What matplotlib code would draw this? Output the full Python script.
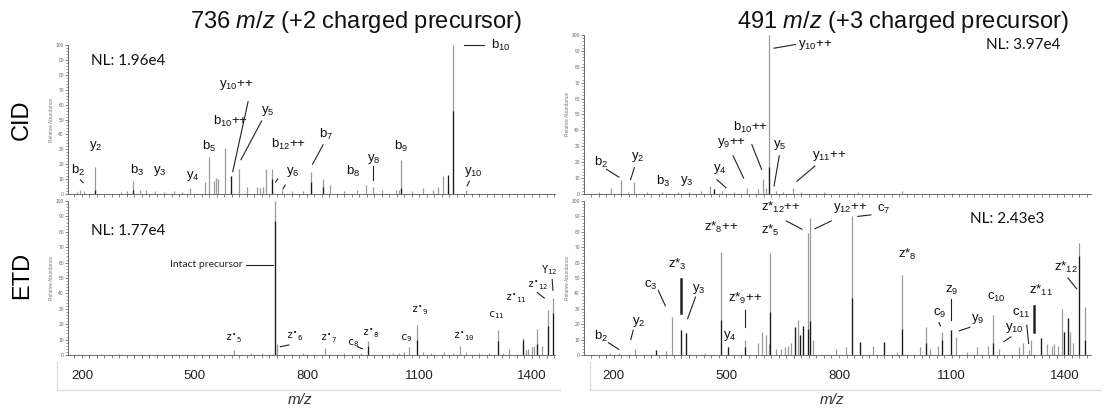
import matplotlib
matplotlib.use("Agg")
import matplotlib.pyplot as plt
from matplotlib.ticker import MultipleLocator, FixedLocator, NullFormatter
from matplotlib.lines import Line2D

plt.rcParams["font.family"] = ["Liberation Sans", "DejaVu Sans"]
plt.rcParams["mathtext.fontset"] = "custom"
plt.rcParams["mathtext.rm"] = "Liberation Sans"
plt.rcParams["mathtext.it"] = "Liberation Sans:italic"
plt.rcParams["mathtext.default"] = "regular"

# ---- CID, 736 m/z (+2) ----
cid2_mz = [186, 196, 206, 236, 303, 320, 337, 355, 372, 395, 420, 445, 468, 488, 529,
           538.5, 553, 558, 564, 581, 598.5, 617.5, 641, 667, 675, 683, 691, 707, 733.6,
           760, 790, 809.7, 843, 862, 900, 933.4, 957, 976, 1000, 1038, 1045, 1052, 1080,
           1109.5, 1135, 1150, 1162, 1176, 1190, 1223, 1260, 1300, 1340, 1380, 1420]
cid2_int = [1.5, 3, 2, 18, 1.5, 2, 8.5, 3, 3, 2, 1.5, 2, 1.5, 4, 8,
            25, 9, 11, 10, 31, 12, 17, 5, 5, 4, 5, 17, 17, 3,
            2, 2, 15, 10, 6, 2, 3, 6, 5, 3, 3, 3, 23, 2,
            4, 3, 5, 12, 7, 100, 3, 1, 1, 1, 1, 1]
cid2_dark_mz = [236, 337, 598.5, 707, 809.7, 843, 1052, 1176, 1190]
cid2_dark_int = [3, 3, 12, 10, 8, 5, 4, 13, 56]
cid2_text = ["NL: 1.96e4", "b$_{10}$", "y$_{10}$++", "y$_5$", "b$_{10}$++", "y$_2$", "b$_5$",
             "b$_{12}$++", "b$_7$", "b$_2$", "b$_3$", "y$_3$", "y$_4$", "y$_6$", "b$_8$",
             "y$_8$", "b$_9$", "y$_{10}$"]
cid2_tx = [224, 1290, 610, 695, 596, 236, 538, 752, 850, 189, 348, 408, 496, 762, 924,
           979, 1050, 1243]
cid2_ty = [89, 100, 73, 56, 49, 32, 32, 33, 40, 16, 15.6, 15.6, 12, 15, 15, 23.5, 32, 15]
cid2_lead = [(1219, 100, 1271, 100), (643, 62, 602, 15), (679, 49, 624, 23),
             (843, 33, 815, 20), (196, 9.5, 203, 7.5), (722, 10, 716, 8),
             (742, 6, 736, 3.5), (976, 18.5, 976, 9.5), (1233, 8.5, 1227, 5.5)]

# ---- ETD, 736 m/z (+2) ----
etd2_mz = [190, 250, 300, 380, 450, 520, 570, 605, 650, 680, 714.6, 719, 760, 790, 847.8,
           900, 944.8, 962, 1030, 1045, 1060, 1071.4, 1093.3, 1109.5, 1130, 1166.5, 1190,
           1209.4, 1223.6, 1260, 1285, 1309.3, 1322, 1337.8, 1376, 1385.4, 1390, 1399.7,
           1405, 1414, 1428, 1442.5, 1456.8]
etd2_int = [0.5, 0.5, 0.5, 0.5, 0.5, 0.5, 0.8, 3, 1, 1, 100, 7, 0.8, 1, 4.5,
            1, 1, 9, 1, 1.5, 2, 5.5, 19.5, 2, 1, 2, 1,
            6, 2, 1, 1, 16, 1.5, 4, 11, 3, 4, 5,
            6, 17, 6, 29, 37]
etd2_dark_mz = [714.6, 962, 1093.3, 1309.3, 1376, 1414, 1442.5, 1456.8]
etd2_dark_int = [87, 6, 10, 9, 10, 7, 19, 27]
etd2_text = ["z$^{\\bullet}$$_5$", "z$^{\\bullet}$$_6$", "z$^{\\bullet}$$_7$", "c$_8$",
             "z$^{\\bullet}$$_8$", "c$_9$", "z$^{\\bullet}$$_9$", "z$^{\\bullet}$$_{10}$",
             "c$_{11}$", "z$^{\\bullet}$$_{11}$", "z$^{\\bullet}$$_{12}$", "Y$_{12}$"]
etd2_tx = [605, 767, 857, 924, 970, 1064, 1100, 1219, 1304, 1357, 1414, 1447]
etd2_ty = [11, 12, 11, 7.6, 14, 11, 29, 12, 26, 37, 45, 55]
etd2_lead = [(638, 58.7, 710, 58.7), (752, 6.5, 729, 5.4), (934, 5.5, 948, 4),
             (1414, 40.5, 1433, 37), (1454, 49, 1456, 42)]

# ---- CID, 491 m/z (+3) ----
cid3_mz = [160, 193, 219, 238, 254, 290, 330, 370, 400, 432, 456, 466, 489, 520, 556,
           584, 596.5, 605, 612.6, 631.6, 650, 677, 700, 760, 850, 968, 1100, 1250]
cid3_int = [1, 4, 9, 1, 7.5, 1, 1, 1, 1, 2, 5, 3, 2, 1.5, 4,
            3, 9.5, 4, 100, 2, 1.5, 4, 1, 1, 1, 2, 0.5, 0.5]
cid3_dark_mz = [466, 612.6]
cid3_dark_int = [3, 17]
cid3_text = ["y$_{10}$++", "NL: 3.97e4", "b$_{10}$++", "y$_9$++", "y$_5$", "y$_{11}$++",
             "b$_2$", "y$_2$", "b$_3$", "y$_3$", "y$_4$"]
cid3_tx = [690, 1191, 565, 515, 641, 774, 167, 264, 333, 394, 483]
cid3_ty = [94, 94, 42, 32, 31, 24, 19.7, 23, 8, 8, 15.5]
cid3_lead = [(627, 91.7, 684, 94), (518, 24, 546, 10), (568, 31, 594, 15.5),
             (641, 24, 627, 5), (736, 17.6, 688, 8), (181, 15.5, 214, 10.6),
             (255, 16.5, 245, 9), (475, 9, 499, 4)]

# ---- ETD, 491 m/z (+3) ----
etd3_mz = [190.5, 214, 257, 314, 339.5, 356.5, 378, 392.6, 444, 484.6, 505.5, 549, 584,
           594.6, 605, 612.6, 617.4, 631.6, 645.8, 655, 665, 672.4, 682, 689.6, 697, 704.7,
           717, 723.6, 731, 793, 819, 835.6, 856.4, 890.6, 921, 954, 968, 1015.8, 1032,
           1042, 1063, 1074.6, 1098, 1112.6, 1142, 1167.6, 1196, 1210, 1226, 1278.6, 1291,
           1307, 1312, 1338, 1353, 1367, 1371.5, 1383, 1395, 1400, 1409.5, 1414, 1423.7,
           1440, 1454]
etd3_int = [1, 1, 4, 3, 2.5, 25, 16, 14, 1.5, 67, 5, 10, 8,
            15, 13, 7, 66, 4, 4, 5, 6, 8, 18, 23, 13, 19,
            79, 89, 10, 4, 5, 90, 8.5, 6, 8.5, 2, 52, 5, 18,
            4, 6, 15, 16, 12, 2, 5, 6, 26, 4, 5, 8,
            3, 10, 11, 7, 6, 7, 6, 30, 15, 24, 15, 8,
            73, 31]
etd3_dark_mz = [314, 378, 392.6, 484.6, 505.5, 549, 617.4, 682, 697, 704.7, 717, 723.6,
                835.6, 856.4, 921, 968, 1032, 1074.6, 1098, 1210, 1338, 1400, 1409.5,
                1440, 1454]
etd3_dark_int = [3, 16, 14, 23, 5, 5, 28, 18, 13, 19, 17, 22,
                 37, 8.5, 8.5, 17, 8, 10, 16, 8, 11, 15, 24,
                 64, 10]
etd3_text = ["NL: 2.43e3", "c$_7$", "y$_{12}$++", "z*$_{12}$++", "z*$_5$", "z*$_8$++",
             "z*$_8$", "z*$_3$", "c$_3$", "y$_3$", "z*$_9$++", "y$_4$", "b$_2$", "y$_2$",
             "z$_9$", "c$_9$", "y$_9$", "c$_{10}$", "y$_{10}$", "c$_{11}$", "z*$_{11}$",
             "z*$_{12}$"]
etd3_tx = [1149, 900, 783, 646, 617, 485, 983, 369, 298, 426, 551, 508, 167, 266,
           1101, 1068, 1168, 1220, 1267, 1286, 1338, 1405]
etd3_ty = [88, 94.6, 95.7, 95.7, 80.6, 82.8, 65.6, 59, 45, 42.6, 36.6, 12.5, 11.8, 21.5,
           42, 27, 23.6, 37.6, 17.8, 27, 42, 57]
etd3_lead = [(850, 90, 885, 91), (779, 87, 736, 82), (660, 87, 701, 81.7),
             (318.6, 42, 337.5, 32), (418, 37.6, 397, 23.7), (549, 29, 549, 18),
             (186, 8, 214, 3.6), (252, 16, 245.5, 10), (1098, 36.5, 1098, 22.6),
             (1066, 21, 1070, 19), (1148.6, 18, 1120, 15.7), (1257.7, 11.8, 1238.7, 8.6),
             (1300, 19.4, 1305, 7.5), (1409.5, 50, 1433, 43)]
etd3_thick = [(378, 49.5, 378, 27), (1318, 32, 1318, 15)]

left_xlim = (162.7, 1461.5)
right_xlim = (121, 1471)
mz_ticks = [200, 500, 800, 1100, 1400]

W, H = 1104, 408
fig = plt.figure(figsize=(W / 100, H / 100), dpi=100)


def box(x0, x1, ytop, ybot):
    # pixel box -> figure fraction [left, bottom, width, height]
    return [x0 / W, 1 - ybot / H, (x1 - x0) / W, (ybot - ytop) / H]


def spectrum(rect, xlim, mz, inten, dmz, dint, text, tx, ty, lead,
             fs=9.5, tfont=None, ann_ha=None, labels=False):
    ax = fig.add_axes(rect)
    ax.vlines(mz, 0, inten, colors="#9b9b9b", lw=0.9)
    ax.vlines(dmz, 0, dint, colors="#1a1a1a", lw=0.9)
    ax.set_xlim(*xlim)
    ax.set_ylim(0, 100)
    for s in ("top", "right"):
        ax.spines[s].set_visible(False)
    for s in ("left", "bottom"):
        ax.spines[s].set_color("#555555")
        ax.spines[s].set_linewidth(0.6)
    ax.yaxis.set_major_locator(MultipleLocator(10))
    ax.yaxis.set_minor_locator(MultipleLocator(2))
    ax.tick_params(axis="y", which="major", labelsize=3.5, labelcolor="#666666",
                   length=2.5, width=0.5, color="#555555", pad=0.5)
    ax.tick_params(axis="y", which="minor", length=1.3, width=0.4, color="#555555")
    ax.set_ylabel("Relative Abundance", fontsize=3.5, color="#777777", labelpad=1)
    ax.xaxis.remove_overlapping_locs = False
    ax.xaxis.set_minor_locator(MultipleLocator(20))
    ax.tick_params(axis="x", which="minor", length=2, width=0.5, color="#555555")
    if labels:
        ax.xaxis.set_major_locator(FixedLocator(mz_ticks))
        ax.tick_params(axis="x", which="major", length=0, labelsize=9.5, pad=11,
                       labelcolor="#222222")
    else:
        ax.xaxis.set_major_locator(FixedLocator([]))
        ax.xaxis.set_major_formatter(NullFormatter())
    for i, t in enumerate(text):
        if t.startswith("NL"):
            ax.text(tx[i], ty[i], t, fontsize=11, ha="left", va="center",
                    family=["Lato", "DejaVu Sans"], color="#111111")
            continue
        ha = "center"
        if ann_ha and t in ann_ha:
            ha = "left"
        kw = {}
        if tfont:
            kw["family"] = tfont
        ax.text(tx[i], ty[i], t, fontsize=fs, ha=ha, va="center", color="#111111",
                clip_on=False, **kw)
    for x1, y1, x2, y2 in lead:
        ax.add_line(Line2D([x1, x2], [y1, y2], color="#222222", lw=0.8, clip_on=False))
    return ax


spectrum(box(68, 555, 45, 194), left_xlim, cid2_mz, cid2_int, cid2_dark_mz,
         cid2_dark_int, cid2_text, cid2_tx, cid2_ty, cid2_lead,
         ann_ha=["b$_{10}$"])
ax_etd2 = spectrum(box(68, 555, 201, 355), left_xlim, etd2_mz, etd2_int, etd2_dark_mz,
                   etd2_dark_int, etd2_text, etd2_tx, etd2_ty, etd2_lead, fs=7.5,
                   tfont=["DejaVu Sans Mono"], labels=True)
ax_etd2.text(629, 58.7, "Intact precursor", fontsize=7.5, ha="right", va="center",
             family=["Lato", "DejaVu Sans"], color="#222222")
ax_etd2.text(224, 80.4, "NL: 1.77e4", fontsize=11, ha="left", va="center",
             family=["Lato", "DejaVu Sans"], color="#111111")

spectrum(box(584, 1091, 35, 194), right_xlim, cid3_mz, cid3_int, cid3_dark_mz,
         cid3_dark_int, cid3_text, cid3_tx, cid3_ty, cid3_lead,
         ann_ha=["y$_{10}$++"])
ax_etd3 = spectrum(box(584, 1091, 201, 355), right_xlim, etd3_mz, etd3_int, etd3_dark_mz,
                   etd3_dark_int, etd3_text, etd3_tx, etd3_ty, etd3_lead,
                   ann_ha=["c$_7$", "y$_{12}$++"], labels=True)
for x1, y1, x2, y2 in etd3_thick:
    ax_etd3.add_line(Line2D([x1, x2], [y1, y2], color="#222222", lw=1.8))

# light frames around the m/z scale
for x0, x1 in ((57, 560), (590, 1100)):
    fig.add_artist(Line2D([x0 / W, x0 / W], [1 - 362 / H, 1 - 390 / H], color="#dcdcdc", lw=1))
    fig.add_artist(Line2D([x0 / W, x1 / W], [1 - 390 / H, 1 - 390 / H], color="#dcdcdc", lw=1))

fig.text(356 / W, 1 - 22 / H, "736 $\\it{m/z}$ (+2 charged precursor)", fontsize=17,
         ha="center", va="center", color="#111111")
fig.text(903 / W, 1 - 22 / H, "491 $\\it{m/z}$ (+3 charged precursor)", fontsize=17,
         ha="center", va="center", color="#111111")
fig.text(22 / W, 1 - 120 / H, "CID", fontsize=17, rotation=90, ha="center", va="center")
fig.text(22 / W, 1 - 275 / H, "ETD", fontsize=17, rotation=90, ha="center", va="center")
fig.text(300 / W, 1 - 400 / H, "m/z", fontsize=11, style="italic", ha="center", va="center",
         color="#333333")
fig.text(832 / W, 1 - 400 / H, "m/z", fontsize=11, style="italic", ha="center", va="center",
         color="#333333")

fig.savefig("out.png", dpi=100, facecolor="white")
